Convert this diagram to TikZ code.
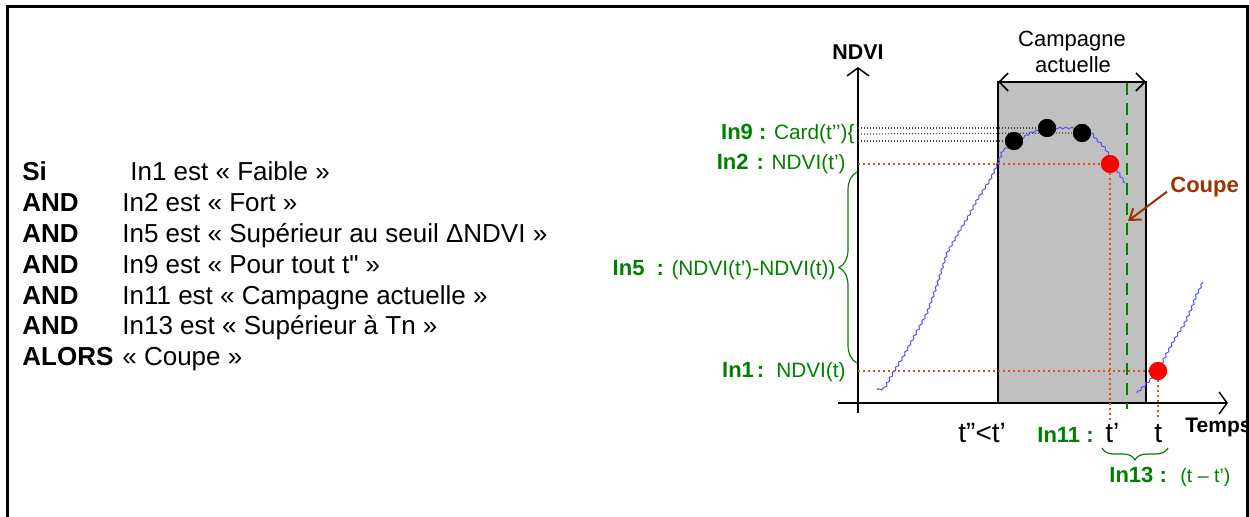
\documentclass[tikz,border=0pt]{standalone}
\usepackage{fontspec}
\setmainfont[Ligatures=TeXOff]{Liberation Sans}
\usetikzlibrary{arrows.meta,decorations.pathreplacing,decorations.pathmorphing,positioning}

\definecolor{lblgreen}{RGB}{0,128,0}
\definecolor{dotred}{RGB}{226,76,28}
\definecolor{coupebrown}{RGB}{153,51,0}
\definecolor{curveblue}{RGB}{80,80,255}
\definecolor{campgray}{RGB}{192,192,192}
\newcommand{\inname}[1]{{\fontsize{11}{13}\selectfont\bfseries #1}}

\begin{document}
\begin{tikzpicture}[x=0.5pt, y=-0.5pt,
  rule/.style={anchor=base west, inner sep=0pt, font=\fontsize{13}{15}\selectfont},
  key/.style={rule, font=\fontsize{13}{15}\selectfont\bfseries},
  lbl/.style={anchor=base east, inner sep=0pt, text=lblgreen, font=\fontsize{10.4}{12}\selectfont},
  tick/.style={anchor=base west, inner sep=0pt, font=\fontsize{14}{16}\selectfont},
  axis/.style={line width=0.75pt, -{Straight Barb[length=4pt,width=11pt]}},
  bigdot/.style={circle, fill=black, minimum size=9pt, inner sep=0pt},
  reddot/.style={circle, fill=red, minimum size=9pt, inner sep=0pt},
  guide/.style={dotred, line width=1pt, dash pattern=on 1pt off 1.5pt},
  fine/.style={black!75, line width=0.6pt, dash pattern=on 0.6pt off 0.9pt},
  greenbrace/.style={lblgreen, line width=0.6pt, decorate},
  ndvicurve/.style={curveblue, line width=0.5pt, line join=round, decorate,
    decoration={zigzag, segment length=3pt, amplitude=0.5pt}},
]
\useasboundingbox (0,0) rectangle (1249,517);

% === rule ===
\node[key]  (k1) at (22,181) {Si};
\node[rule] (t1) at (130,181) {In1 est « Faible »};
\node[key]  (k2) at (22,212) {AND};
\node[rule] (t2) at (122,212) {In2 est « Fort »};
\node[key]  (k3) at (22,243) {AND};
\node[rule] (t3) at (122,243) {In5 est « Supérieur au seuil ΔNDVI »};
\node[key]  (k4) at (22,274) {AND};
\node[rule] (t4) at (122,274) {In9 est « Pour tout t" »};
\node[key]  (k5) at (22,305) {AND};
\node[rule] (t5) at (122,305) {In11 est « Campagne actuelle »};
\node[key]  (k6) at (22,335) {AND};
\node[rule] (t6) at (122,335) {In13 est « Supérieur à Tn »};
\node[key]  (k7) at (22,366) {ALORS};
\node[rule] (t7) at (122,366) {« Coupe »};

% === campagne ===
\draw[fill=campgray, line width=0.8pt] (998,403) rectangle (1146,82);
\coordinate (cl) at (998,82);
\coordinate (cr) at (1146,82);
\draw[line width=0.8pt, {Straight Barb[length=4.5pt,width=9pt]}-{Straight Barb[length=4.5pt,width=9pt]}] (cl) -- (cr);
\node[anchor=base, inner sep=0pt, font=\fontsize{11}{13}\selectfont] (camp1) at (1072,47) {Campagne};
\node[anchor=base, inner sep=0pt, font=\fontsize{11}{13}\selectfont] (camp2) at (1073,73) {actuelle};

% === axes ===
\coordinate (ybot) at (858,413);
\coordinate (ytop) at (858,67);
\coordinate (xl) at (838,403);
\coordinate (xr) at (1228,403);
\draw[axis] (ybot) -- (ytop);
\draw[axis] (xl) -- (xr);
\node[anchor=base, inner sep=0pt, font=\fontsize{10.7}{12}\selectfont\bfseries] (ndvi) at (858,60) {NDVI};
\begin{scope}
  \clip (0,0) rectangle (1246,517);
  \node[anchor=base west, inner sep=0pt, font=\fontsize{10.5}{12}\selectfont\bfseries] (temps) at (1185,433) {Temps};
\end{scope}

% === NDVI curve ===
\draw[ndvicurve]
  (877,390) -- (885,388) -- (893,373) -- (903,357) -- (915,335) -- (927,313)
  -- (937,285) -- (947,253) -- (960,230) -- (968,217) -- (977,200) -- (990,180)
  -- (998,163) -- (1003,150) -- (1012,145) -- (1030,133) -- (1045,128) -- (1088,128)
  -- (1095,138) -- (1105,148) -- (1112,160) -- (1118,172) -- (1125,183);
\draw[ndvicurve]
  (1137,393) -- (1147,383) -- (1153,377) -- (1160,367) -- (1167,353) -- (1177,335)
  -- (1184,325) -- (1192,307) -- (1196,296) -- (1203,282);

% === points ===
\coordinate (y9a) at (858,128);
\coordinate (y9b) at (858,134);
\coordinate (y9c) at (858,141);
\coordinate (y2) at (858,164);
\coordinate (y1) at (858,371);
\coordinate (x2) at (1110,420);
\coordinate (x1) at (1158,420);
\node[bigdot] (d1) at (1014,141) {};
\node[bigdot] (d2) at (1047,128) {};
\node[bigdot] (d3) at (1082,133) {};
\node[reddot] (p2) at (1110,164) {};
\node[reddot] (p1) at (1158,371) {};
\draw[fine] (y9a) -- (d2);
\draw[fine] (y9b) -- (d3);
\draw[fine] (y9c) -- (d1);
\draw[guide] (y2) -- (p2);
\draw[guide] (p2) -- (x2);
\draw[guide] (y1) -- (p1);
\draw[guide] (p1) -- (x1);
\node[bigdot] at (d1) {};
\node[bigdot] at (d2) {};
\node[bigdot] at (d3) {};
\node[reddot] at (p2) {};
\node[reddot] at (p1) {};

% === coupe ===
\coordinate (cuttop) at (1127,83);
\coordinate (cutbot) at (1127,409);
\coordinate (cut) at (1128,221);
\draw[lblgreen, line width=1.2pt, dash pattern=on 6pt off 4pt] (cuttop) -- (cutbot);
\node[anchor=base west, inner sep=0pt, text=coupebrown, font=\fontsize{11}{13}\selectfont\bfseries] (coupe) at (1170,193) {Coupe};
\draw[coupebrown, line width=1pt, -{Straight Barb[length=5pt,width=7pt]}] ([shift={(-3,4)}]coupe.west) -- (cut);

% === indicators ===
\node[lbl] (in9) at (855,140) {\inname{In9 :} Card(t’’)\{};
\node[lbl] (in2) at (846,170) {\inname{In2\hspace{4pt}:} NDVI(t’)};
\node[lbl] (in5) at (836,276) {\inname{In5\hspace{6pt}:} (NDVI(t’)-NDVI(t))};
\node[lbl] (in1) at (846,378) {\inname{In1\hspace{1.5pt}:}\hspace{6pt}NDVI(t)};
\draw[greenbrace, decoration={brace, amplitude=9pt}] (857,363) -- (857,172);

\node[tick] (tpp) at (958,443) {t”<t’};
\node[anchor=base west, inner sep=0pt, text=lblgreen] (in11) at (1037,443) {\inname{In11 :}};
\node[tick] (tp) at (1105,443) {t’};
\node[tick] (tt) at (1154,443) {t};
\draw[greenbrace, decoration={brace, mirror, amplitude=6pt}] (1102,448) -- (1168,448);
\node[anchor=base west, inner sep=0pt, text=lblgreen] (in13) at (1109,483) {\inname{In13 :}};
\node[anchor=base west, inner sep=0pt, text=lblgreen, font=\fontsize{9.8}{12}\selectfont] (dt) at (1180,483) {(t – t’)};

% === frame ===
\draw[line width=1.5pt] (7.5,517) -- (7.5,6.5) -- (1247,6.5) -- (1247,517);

\end{tikzpicture}
\end{document}
